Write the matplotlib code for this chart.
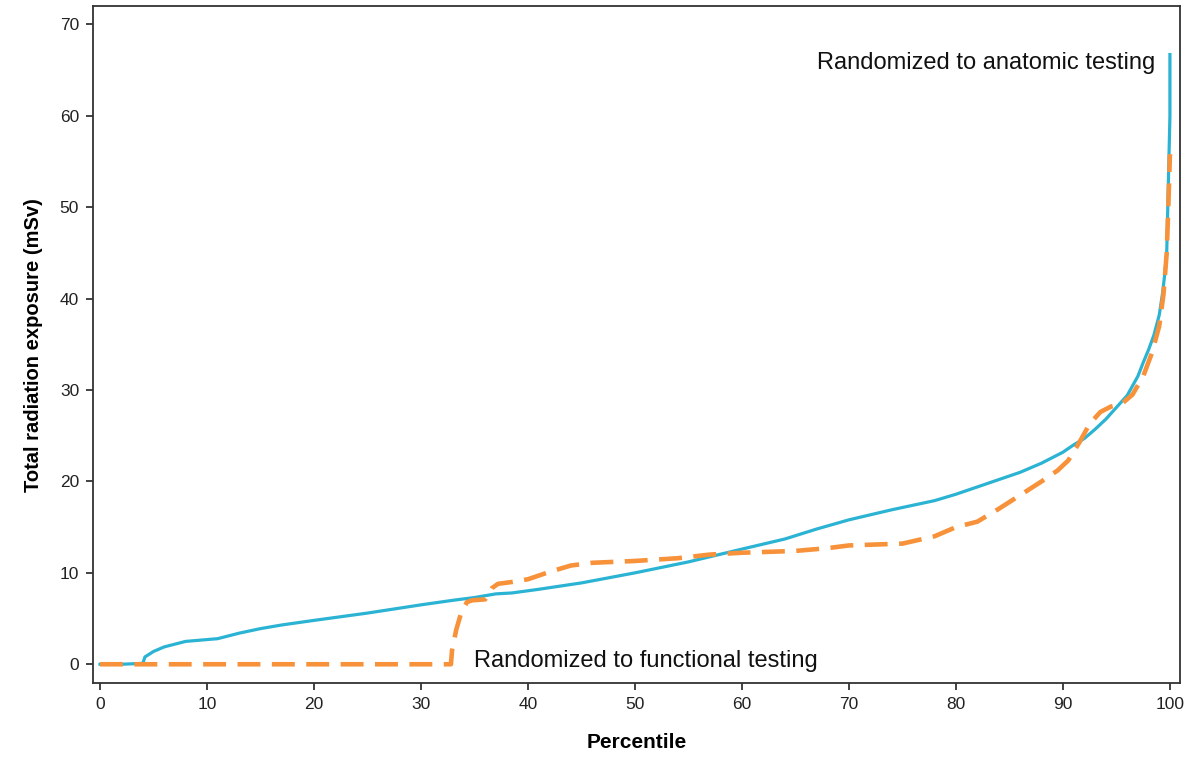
import matplotlib
matplotlib.use("Agg")
import matplotlib.pyplot as plt

plt.rcParams['font.family'] = ['Liberation Sans', 'DejaVu Sans']

# Anatomic testing (solid blue)
anat_pct = [0, 2, 4.0, 4.2, 5, 6, 7, 8, 10, 11, 13, 15, 17, 20, 25, 30, 33, 35, 37, 38.5, 41, 45, 50, 55, 60, 64,
            67, 70, 74, 78, 80, 82, 86, 88, 90, 91, 92, 93, 94, 95, 96, 97, 97.5, 98, 98.5, 99, 99.3, 99.5, 99.7,
            99.8, 99.9, 100, 100]
anat_val = [0, 0, 0.1, 0.8, 1.4, 1.9, 2.2, 2.5, 2.7, 2.8, 3.4, 3.9, 4.3, 4.8, 5.6, 6.5, 7.0, 7.3, 7.7, 7.8, 8.2, 8.9, 10.0,
            11.2, 12.6, 13.7, 14.8, 15.8, 16.9, 17.9, 18.6, 19.4, 21.0, 22.0, 23.2, 24.0, 24.7, 25.7, 26.8, 28.1, 29.4,
            31.5, 33.0, 34.4, 36.0, 38.2, 40.5, 42.5, 45.0, 50.0, 55.0, 60.0, 66.7]

# Functional testing (dashed orange)
func_pct = [0, 32.8, 32.9, 33.3, 33.8, 34.3, 34.8, 36.0, 36.6, 37.2, 38.5, 40.0, 42.0, 44.0, 46.0, 50.0, 54.0, 57.0,
            60.0, 65.0, 68.0, 70.0, 75.0, 78.0, 80.0, 82.0, 84.0, 86.0, 88.0, 89.5, 90.5, 91.5, 92.5, 93.5, 94.5, 95.5,
            96.5, 97.5, 98.3, 99.0, 99.4, 99.7, 99.85, 100]
func_val = [0, 0, 1.5, 3.8, 5.8, 6.8, 7.0, 7.1, 8.3, 8.8, 9.0, 9.3, 10.1, 10.8, 11.1, 11.3, 11.6, 12.0, 12.2, 12.4,
            12.7, 13.0, 13.2, 14.0, 15.0, 15.6, 17.0, 18.5, 20.0, 21.2, 22.3, 24.2, 26.3, 27.6, 28.2, 28.5, 29.5,
            31.5, 34.0, 37.0, 40.5, 45.0, 50.0, 55.8]

blue = '#2BB3D3'
orange = '#F7923A'

fig = plt.figure(figsize=(11.93, 7.66), dpi=100)
ax = fig.add_axes([0.078, 0.108, 0.911, 0.884])

ax.plot(anat_pct, anat_val, color=blue, lw=2.3, zorder=2)
ax.plot(func_pct, func_val, color=orange, lw=3.3, dashes=(5, 2.5), zorder=3)

ax.set_xlim(-0.65, 100.93)
ax.set_ylim(-2.08, 72.0)
ax.set_xticks(range(0, 101, 10))
ax.set_yticks(range(0, 71, 10))
ax.tick_params(direction='out', length=5, width=1.2, labelsize=12.5, colors='#222222', pad=5)
for s in ax.spines.values():
    s.set_linewidth(1.3)
    s.set_color('#333333')

ax.set_xlabel('Percentile', fontsize=15, fontweight='bold', labelpad=15)
ax.set_ylabel('Total radiation exposure (mSv)', fontsize=14.5, fontweight='bold', labelpad=12)

ax.text(98.6, 65.8, 'Randomized to anatomic testing', fontsize=17, ha='right', va='center', color='#111111')
ax.text(35.0, 0.4, 'Randomized to functional testing', fontsize=17, ha='left', va='center', color='#111111')

fig.savefig('out.png', dpi=100)
